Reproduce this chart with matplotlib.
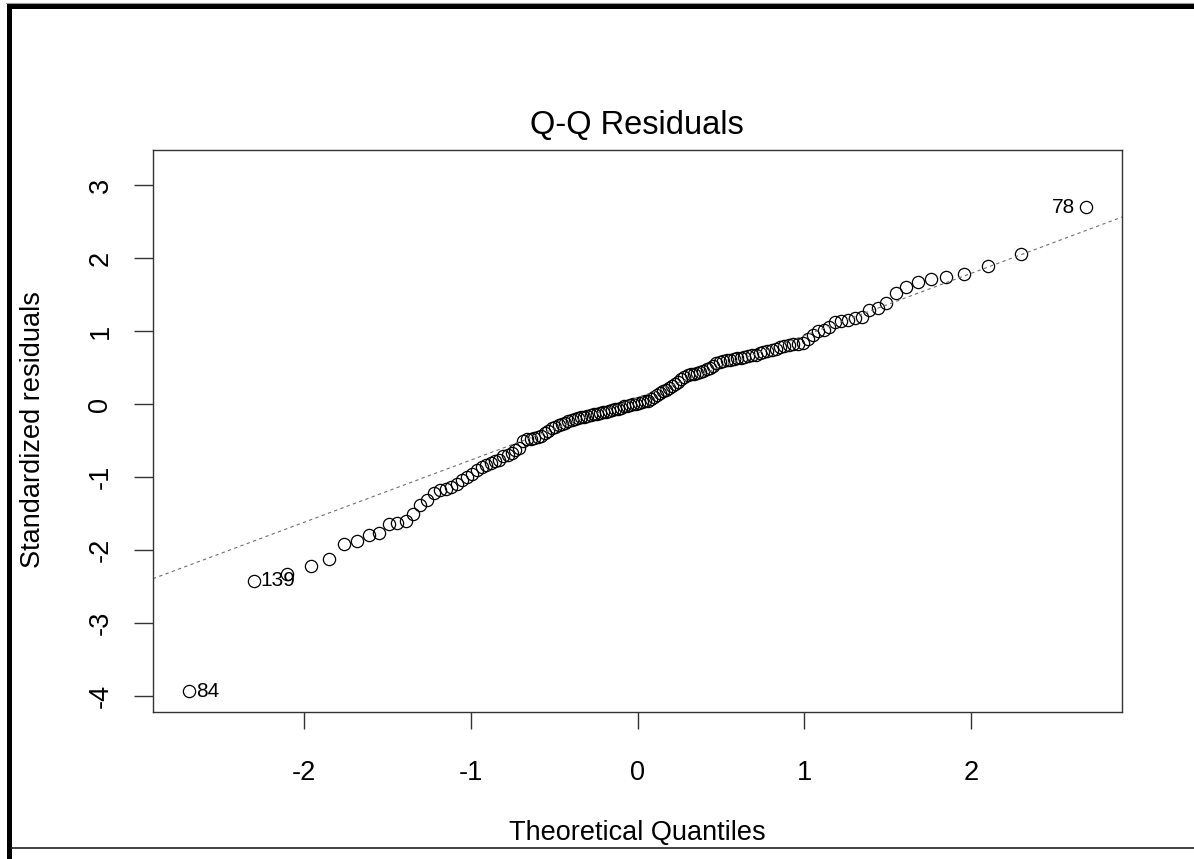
import matplotlib
matplotlib.use("Agg")
import matplotlib.pyplot as plt
from matplotlib.patches import Rectangle
from matplotlib.lines import Line2D
from statistics import NormalDist
import numpy as np

# Sorted standardized residuals of the fitted model (n = 140)
residuals = [
    -3.93, -2.42, -2.33, -2.21, -2.12, -1.91, -1.87, -1.79, -1.76, -1.64,
    -1.63, -1.60, -1.50, -1.38, -1.31, -1.21, -1.17, -1.16, -1.14, -1.09,
    -1.04, -1.00, -0.95, -0.90, -0.86, -0.83, -0.81, -0.78, -0.76, -0.71,
    -0.69, -0.67, -0.63, -0.60, -0.51, -0.48, -0.47, -0.46, -0.45, -0.43,
    -0.40, -0.36, -0.33, -0.31, -0.29, -0.27, -0.25, -0.23, -0.22, -0.20,
    -0.19, -0.18, -0.17, -0.16, -0.15, -0.14, -0.13, -0.12, -0.11, -0.10,
    -0.09, -0.08, -0.07, -0.06, -0.05, -0.03, -0.02, -0.01, 0.00, 0.01,
    0.02, 0.03, 0.04, 0.05, 0.07, 0.10, 0.13, 0.15, 0.18, 0.20,
    0.22, 0.25, 0.28, 0.31, 0.35, 0.38, 0.40, 0.41, 0.42, 0.43,
    0.44, 0.46, 0.48, 0.50, 0.53, 0.56, 0.58, 0.59, 0.60, 0.61,
    0.62, 0.63, 0.64, 0.65, 0.66, 0.67, 0.68, 0.70, 0.71, 0.73,
    0.74, 0.76, 0.78, 0.80, 0.81, 0.82, 0.83, 0.84, 0.90, 0.95,
    1.00, 1.02, 1.06, 1.12, 1.14, 1.16, 1.18, 1.20, 1.29, 1.32,
    1.38, 1.52, 1.61, 1.68, 1.71, 1.74, 1.79, 1.89, 2.06, 2.70,
]

# Observation ids of the most extreme residuals and their rank in the sorted list
outlier_ids = ["84", "139", "78"]
outlier_ranks = [0, 1, 139]

x_ticks = [-2, -1, 0, 1, 2]
y_ticks = [-4, -3, -2, -1, 0, 1, 2, 3]

title_text = "Q-Q Residuals"
x_label = "Theoretical Quantiles"
y_label = "Standardized residuals"

# Theoretical normal quantiles at ppoints(n)
n = len(residuals)
nd = NormalDist()
theoretical = np.array([nd.inv_cdf((i - 0.5) / n) for i in range(1, n + 1)])
res = np.array(residuals)

# Reference line through the quartiles
q1, q3 = np.quantile(res, [0.25, 0.75])
z1, z3 = nd.inv_cdf(0.25), nd.inv_cdf(0.75)
slope = (q3 - q1) / (z3 - z1)
intercept = q1 - slope * z1

W, H = 1194, 859
fig = plt.figure(figsize=(W / 100, H / 100), dpi=100)
fig.patch.set_facecolor("white")

def fx(px):
    return px / W

def fy(py):
    return 1 - py / H

left, right, top, bottom = 153, 1122, 150, 712
ax = fig.add_axes([fx(left), fy(bottom), (right - left) / W, (bottom - top) / H])

FONT = "Liberation Sans"
axis_color = "#333333"

ax.plot(theoretical, res, linestyle="none", marker="o", markersize=8.8,
        markerfacecolor="none", markeredgecolor="black", markeredgewidth=0.9)

ax.axline((0, intercept), slope=slope, color="#6f6f6f", linewidth=0.8,
          linestyle=(0, (3, 3)))

# Axis ranges with the extra headroom for point labels
xr = theoretical.min(), theoretical.max()
dx = (xr[1] - xr[0]) * 0.04
ax.set_xlim(xr[0] - dx, xr[1] + dx)
ymin, ymax = res.min(), res.max()
ymax = ymax + (ymax - ymin) * 0.075
dy = (ymax - ymin) * 0.04
ax.set_ylim(ymin - dy, ymax + dy)

ax.set_xticks(x_ticks)
ax.set_xticklabels([str(t) for t in x_ticks], fontfamily=FONT, fontsize=19.5)
ax.set_yticks(y_ticks)
ax.set_yticklabels([str(t) for t in y_ticks], fontfamily=FONT, fontsize=19.5,
                   rotation=90, va="center")
ax.tick_params(axis="x", length=12.5, width=1.0, color=axis_color, pad=22,
               labelcolor="black")
ax.tick_params(axis="y", length=13.5, width=1.0, color=axis_color, pad=15,
               labelcolor="black")
for sp in ax.spines.values():
    sp.set_color(axis_color)
    sp.set_linewidth(1.0)

# Point labels for the extreme residuals
for pid, rk in zip(outlier_ids, outlier_ranks):
    xv, yv = theoretical[rk], res[rk]
    if xv > 0:
        ax.annotate(pid, (xv, yv), xytext=(-8, 0), textcoords="offset points",
                    ha="right", va="center", fontfamily=FONT, fontsize=15)
    else:
        ax.annotate(pid, (xv, yv), xytext=(5, 0), textcoords="offset points",
                    ha="left", va="center", fontfamily=FONT, fontsize=15)

fig.text(fx(637), fy(126), title_text, ha="center", va="center",
         fontfamily=FONT, fontsize=23.5)
fig.text(fx(637), fy(833), x_label, ha="center", va="center",
         fontfamily=FONT, fontsize=19.5)
fig.text(fx(33), fy(430), y_label, ha="center", va="center", rotation=90,
         fontfamily=FONT, fontsize=19.5)

# Window frame
fig.add_artist(Rectangle((fx(7), 0), fx(5), 1 - 4 / H, transform=fig.transFigure,
                         facecolor="black", edgecolor="none"))
fig.add_artist(Rectangle((fx(7), fy(9)), 1 - fx(7), fy(4) - fy(9),
                         transform=fig.transFigure, facecolor="black",
                         edgecolor="none"))
fig.add_artist(Line2D([fx(6), 1], [fy(2.5), fy(2.5)], transform=fig.transFigure,
                      color="#9a9a9a", linewidth=0.8))
fig.add_artist(Line2D([fx(12), 1], [fy(848), fy(848)], transform=fig.transFigure,
                      color="#222222", linewidth=1.2))

fig.savefig("out.png", dpi=100, facecolor="white")
